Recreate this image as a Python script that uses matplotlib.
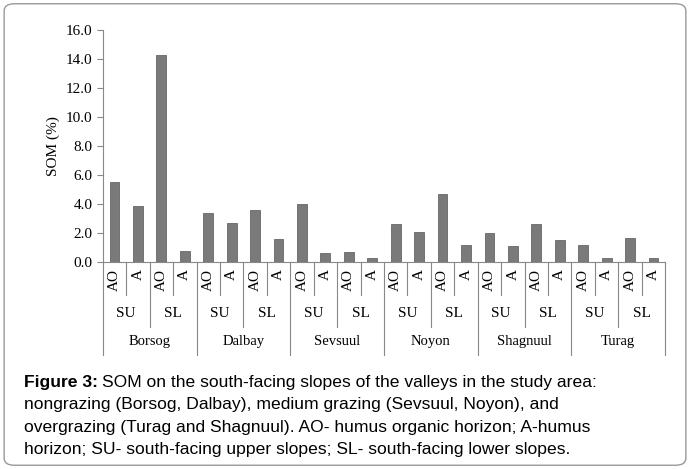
import matplotlib
matplotlib.use("Agg")
import matplotlib.pyplot as plt
from matplotlib.patches import FancyBboxPatch
import numpy as np

valleys = ["Borsog", "Dalbay", "Sevsuul", "Noyon", "Shagnuul", "Turag"]
slopes = ["SU", "SL"]
horizons = ["AO", "A"]
som = [5.5, 3.9, 14.3, 0.8,
       3.4, 2.7, 3.6, 1.6,
       4.0, 0.6, 0.7, 0.3,
       2.6, 2.1, 4.7, 1.2,
       2.0, 1.1, 2.6, 1.5,
       1.2, 0.3, 1.7, 0.3]
yticks = [0, 2, 4, 6, 8, 10, 12, 14, 16]

SERIF = "Liberation Serif"
fig = plt.figure(figsize=(6.9, 4.69), dpi=100)
fig.patches.append(FancyBboxPatch((0.006, 0.008), 0.988, 0.984, boxstyle="round,pad=0,rounding_size=0.015",
                                  transform=fig.transFigure, fill=False, ec="#999999", lw=1))
ax = fig.add_axes([0.149, 0.441, 0.815, 0.495])
n = len(som)
x = np.arange(n)
ax.bar(x, som, width=0.42, color="#7a7a7a", edgecolor="#555555", lw=0.5)
ax.set_xlim(-0.5, n - 0.5)
ax.set_ylim(0, 16)
ax.set_yticks(yticks)
ax.set_yticklabels([f"{v:.1f}" for v in yticks], fontfamily=SERIF, fontsize=11)
ax.set_ylabel("SOM (%)", fontfamily=SERIF, fontsize=11)
for s in ["top", "right"]:
    ax.spines[s].set_visible(False)
ax.spines["left"].set_color("#888888")
ax.spines["bottom"].set_color("#888888")
ax.tick_params(axis="y", length=4, color="#888888")
ax.set_xticks([])

tr = ax.get_xaxis_transform()
def vline(xp, y0, y1):
    ax.plot([xp, xp], [y0, y1], transform=tr, color="#888888", lw=0.8, clip_on=False)
for i in range(n):
    ax.text(i, -0.03, horizons[i % 2], transform=tr, rotation=90, ha="center", va="top",
            fontfamily=SERIF, fontsize=11)
for i in range(n + 1):
    b = i - 0.5
    if i % 4 == 0:
        vline(b, 0, -0.40)
    elif i % 2 == 0:
        vline(b, 0, -0.28)
    else:
        vline(b, 0, -0.14)
for k in range(n // 2):
    ax.text(2 * k + 0.5, -0.22, slopes[k % 2], transform=tr, ha="center", va="center",
            fontfamily=SERIF, fontsize=11)
for k, v in enumerate(valleys):
    ax.text(4 * k + 1.5, -0.34, v, transform=tr, ha="center", va="center",
            fontfamily=SERIF, fontsize=10.5)

lines = ["SOM on the south-facing slopes of the valleys in the study area:",
         "nongrazing (Borsog, Dalbay), medium grazing (Sevsuul, Noyon), and",
         "overgrazing (Turag and Shagnuul). AO- humus organic horizon; A-humus",
         "horizon; SU- south-facing upper slopes; SL- south-facing lower slopes."]
fs = 12.6
y0 = 0.175
t = fig.text(0.035, y0, "Figure 3:", fontweight="bold", fontsize=fs, fontfamily="Liberation Sans", va="baseline")
fig.canvas.draw()
bb = t.get_window_extent()
fig.text(bb.x1 / fig.bbox.width + 0.006, y0, lines[0], fontsize=fs, fontfamily="Liberation Sans", va="baseline")
for j, l in enumerate(lines[1:], 1):
    fig.text(0.035, y0 - j * 0.048, l, fontsize=fs, fontfamily="Liberation Sans", va="baseline")

fig.savefig("out.png", dpi=100)
